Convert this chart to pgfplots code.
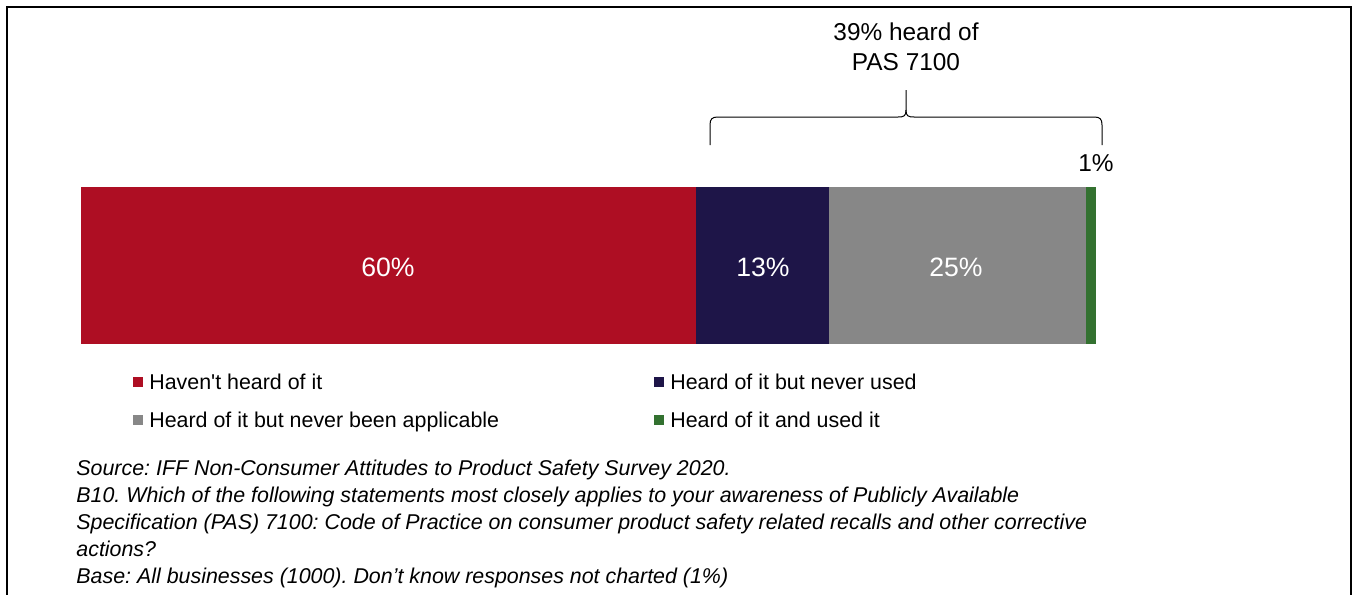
\documentclass[border=0pt]{standalone}
\usepackage{fontspec}
\setmainfont{Liberation Sans}
\usepackage{pgfplots}
\pgfplotsset{compat=1.18}
\definecolor{cred}{RGB}{174,14,35}
\definecolor{cnavy}{RGB}{30,21,72}
\definecolor{cgray}{RGB}{135,135,135}
\definecolor{cgreen}{RGB}{51,113,48}
\frenchspacing
\begin{document}
\begin{tikzpicture}
\begin{scope}[x=0.5pt,y=-0.5pt]
\useasboundingbox (0,0) rectangle (1358,594);
\draw[line width=1pt] (7,600) -- (7,7) -- (1351,7) -- (1351,600);
\end{scope}
\begin{axis}[
  at={(40.5pt,-172pt)}, anchor=south west,
  scale only axis, width=507.5pt, height=78.5pt,
  xbar stacked, bar width=78.5pt,
  xmin=0, xmax=99, ymin=-0.5, ymax=0.5,
  hide axis, clip=false,
  legend columns=2,
  legend cell align=left,
  legend style={draw=none, fill=none, at={(0.0512,-0.184)}, anchor=north west,
    font=\fontsize{10.7}{12}\selectfont, inner sep=0pt,
    nodes={inner sep=0pt, text height=8pt, text depth=2.5pt},
    row sep=8.5pt},
  legend image code/.code={\fill[#1] (0pt,-1.5pt) rectangle (5pt,3.5pt); \path (0pt,0pt) (8pt,0pt);},
]
\addplot[fill=cred, draw=none] coordinates {(60,0)};
\addlegendentry{\makebox[252.5pt][l]{Haven\textquotesingle t heard of it}}
\addplot[fill=cnavy, draw=none] coordinates {(13,0)};
\addlegendentry{Heard of it but never used}
\addplot[fill=cgray, draw=none] coordinates {(25,0)};
\addlegendentry{\makebox[252.5pt][l]{Heard of it but never been applicable}}
\addplot[fill=cgreen, draw=none] coordinates {(1,0)};
\addlegendentry{Heard of it and used it}
\end{axis}
\begin{scope}[x=0.5pt,y=-0.5pt]
\node[white, font=\fontsize{13.3}{15}\selectfont] at (388,267) {60\%};
\node[white, font=\fontsize{13.3}{15}\selectfont] at (763,267) {13\%};
\node[white, font=\fontsize{13.3}{15}\selectfont] at (956,267) {25\%};
\node[font=\fontsize{12.2}{14}\selectfont] at (1096,163) {1\%};
\node[font=\fontsize{12.2}{15}\selectfont, align=center] at (906,47) {39\% heard of\\PAS 7100};
\draw[line width=0.5pt] (710,145) -- (710,125) .. controls (710,119) and (712,117) .. (718,117) -- (898,117)
  .. controls (904,117) and (906,116) .. (906,110) -- (906,90);
\draw[line width=0.5pt] (906,110) .. controls (906,116) and (908,117) .. (914,117) -- (1094,117)
  .. controls (1100,117) and (1102,119) .. (1102,125) -- (1102,145);
\node[anchor=north west, inner sep=0pt, align=left, font=\fontsize{10.7}{13.5}\selectfont\itshape] at (76,460)
{Source: IFF Non-Consumer Attitudes to Product Safety Survey 2020.\\
B10. Which of the following statements most closely applies to your awareness of Publicly Available\\
Specification (PAS) 7100: Code of Practice on consumer product safety related recalls and other corrective\\
actions?\\
Base: All businesses (1000). Don’t know responses not charted (1\%)};
\end{scope}
\end{tikzpicture}
\end{document}
